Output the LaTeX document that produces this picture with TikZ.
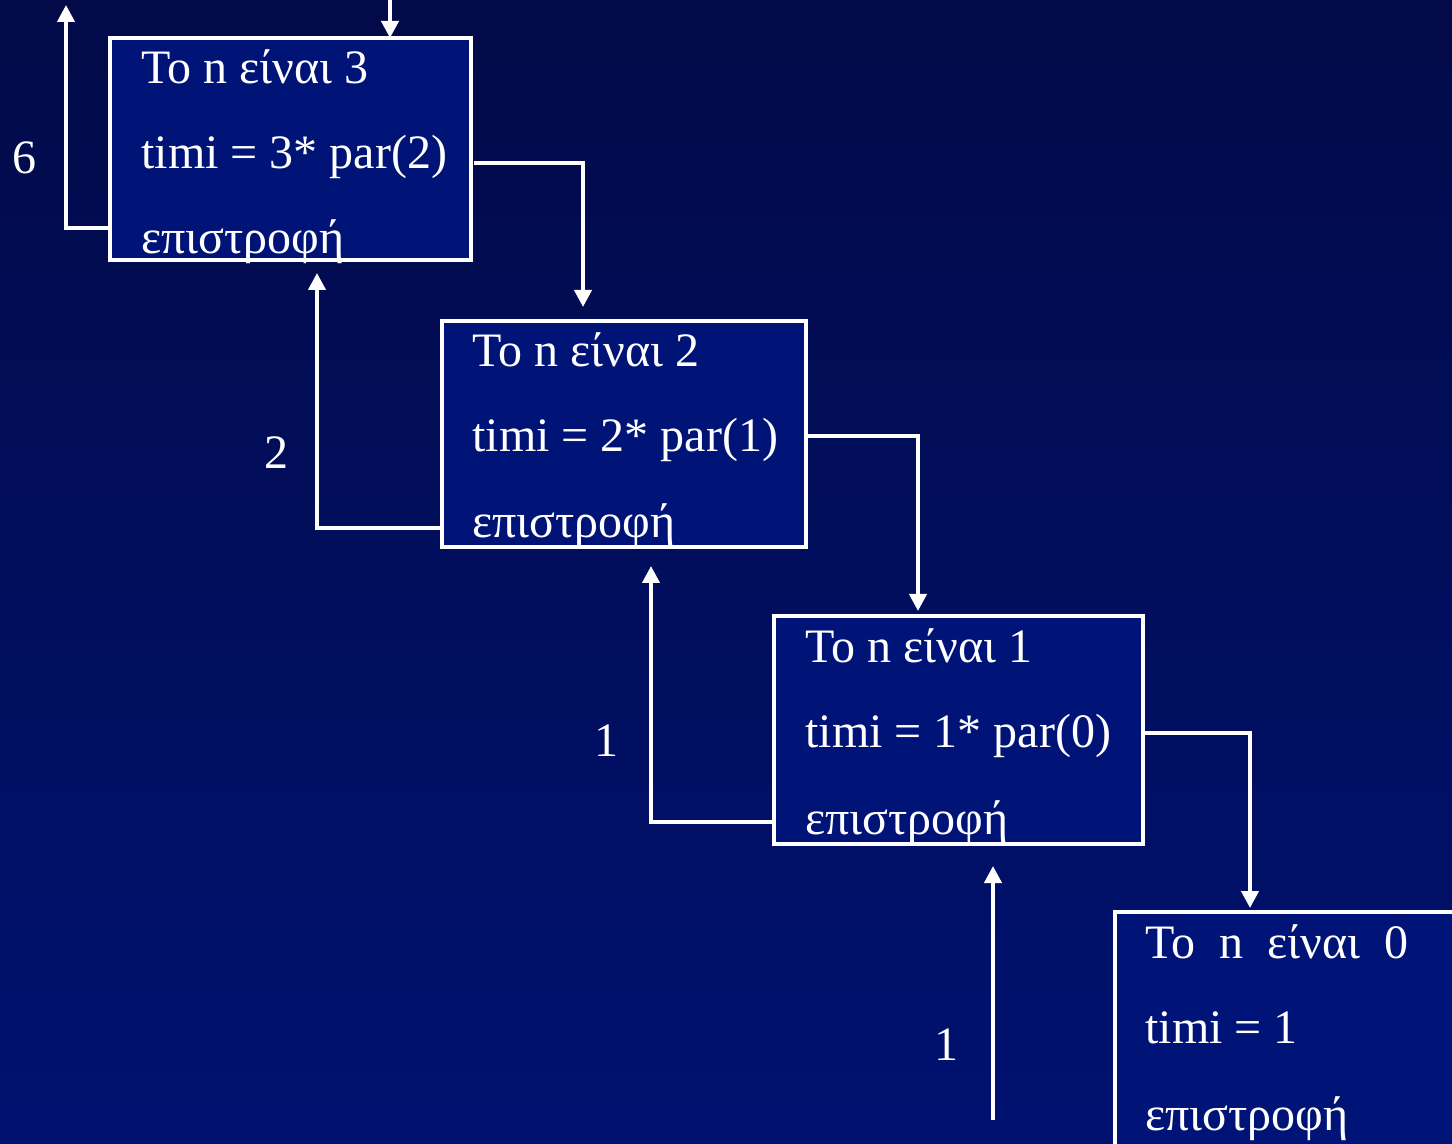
\documentclass[tikz,border=0pt]{standalone}
\usepackage{fontspec}
\setmainfont{Liberation Serif}
\usetikzlibrary{calc,arrows.meta}
\definecolor{bgtop}{HTML}{020A48}
\definecolor{bgbot}{HTML}{001270}
\definecolor{boxblue}{HTML}{001478}
\begin{document}
\begin{tikzpicture}[x=0.5pt,y=0.5pt,
    box/.style={draw=white,line width=2pt,fill=boxblue,anchor=north west,
      inner sep=0pt,outer sep=0pt,minimum width=182pt,minimum height=113pt},
    txt/.style={text=white,anchor=base west,inner sep=0pt,
      font=\fontsize{24}{28}\selectfont},
    num/.style={text=white,inner sep=0pt,font=\fontsize{24}{28}\selectfont},
    arr/.style={draw=white,line width=2pt,-{Triangle[width=8.5pt,length=8.5pt]}}]

      \useasboundingbox (0,0) rectangle (1452,-1144);
      \clip (0,0) rectangle (1452,-1144);
      \shade[top color=bgtop,bottom color=bgbot] (0,0) rectangle (1452,-1144);

      % the boxes
      \node[box,minimum width=180.5pt,minimum height=111pt] (n3) at (110,-38) {};
      \node[box] (n2) at (442,-321) {};
      \node[box,minimum width=184.5pt,minimum height=114pt] (n1) at (774,-616) {};
      \node[box,minimum height=130pt] (n0) at (1115,-912) {};

      % texts
      \node[txt] (t3a) at ($(n3.north west)+(31,-46)$) {To n είναι 3};
      \node[txt] (t3b) at ($(n3.north west)+(31,-131)$) {timi = 3* par(2)};
      \node[txt] (t3c) at ($(n3.north west)+(31,-216)$) {επιστροφή};

      \node[txt] (t2a) at ($(n2.north west)+(30,-46)$) {To n είναι 2};
      \node[txt] (t2b) at ($(n2.north west)+(30,-131)$) {timi = 2* par(1)};
      \node[txt] (t2c) at ($(n2.north west)+(30,-217)$) {επιστροφή};

      \node[txt] (t1a) at ($(n1.north west)+(31,-46)$) {To n είναι 1};
      \node[txt] (t1b) at ($(n1.north west)+(31,-131)$) {timi = 1* par(0)};
      \node[txt] (t1c) at ($(n1.north west)+(31,-218)$) {επιστροφή};

      \node[txt] (t0a) at ($(n0.north west)+(30,-46)$) {To\ \ n\ \ είναι\ \ 0};
      \node[txt] (t0b) at ($(n0.north west)+(30,-131)$) {timi = 1};
      \node[txt] (t0c) at ($(n0.north west)+(30,-218)$) {επιστροφή};

      % returned values
      \node[num] (v3) at (24,-158) {6};
      \node[num] (v2) at (276,-453) {2};
      \node[num] (v1) at (606,-741) {1};
      \node[num] (v0) at (946,-1045) {1};

      \coordinate (call) at (390,0);
      \coordinate (ret) at (66,-5);
      \coordinate (back) at (993,-1120);

      % calls
      \draw[arr] (call) -- (call |- n3.north);
      \draw[arr] ($(n3.north east)+(3,-125)$) -| ($(n2.north west)+(141,14)$);
      \draw[arr] ($(n2.north east)+(0,-115)$) -| ($(n1.north west)+(144,5)$);
      \draw[arr] ($(n1.north east)+(0,-117)$) -| ($(n0.north west)+(135,4)$);

      % returns
      \draw[arr] ($(n3.north west)+(0,-190)$) -| (ret);
      \draw[arr] ($(n2.north west)+(0,-207)$) -| ($(n3.south west)+(207,-13)$);
      \draw[arr] ($(n1.north west)+(0,-206)$) -| ($(n2.south west)+(209,-19)$);
      \draw[arr] (back) -- ($(n1.south west)+(219,-22)$);

    \end{tikzpicture}
\end{document}
